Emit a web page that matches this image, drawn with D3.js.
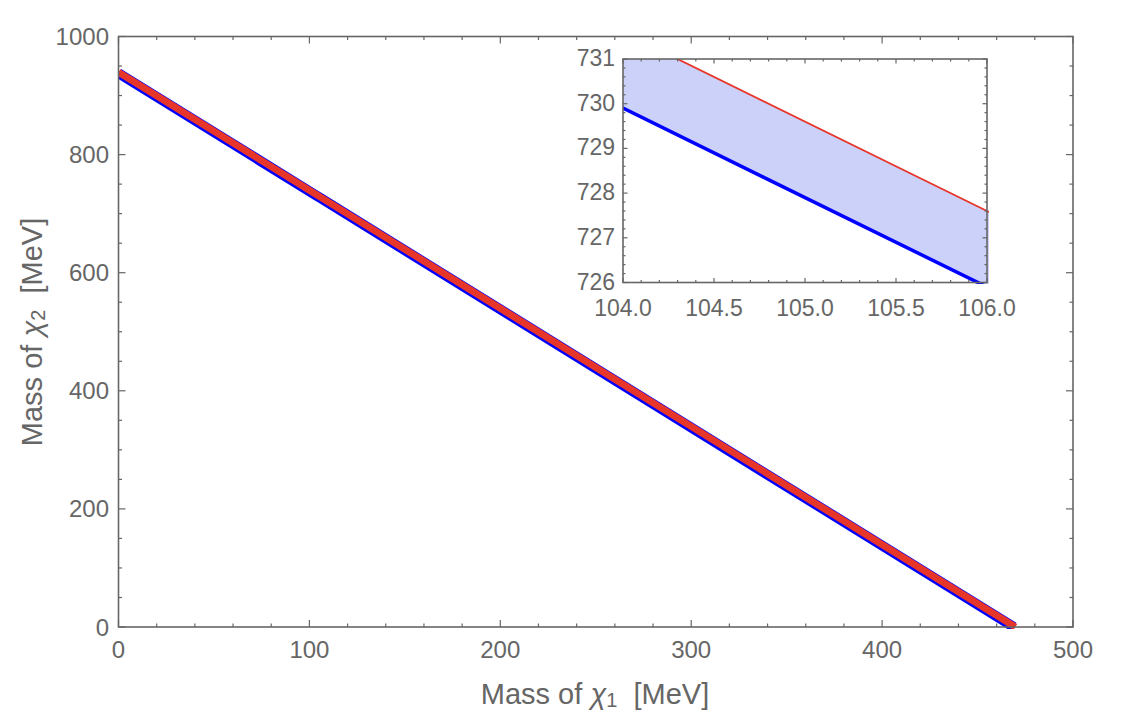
<!DOCTYPE html>
<html>
<head>
<meta charset="utf-8">
<script src="https://cdn.jsdelivr.net/npm/d3@7"></script>
<style>
  body { margin: 0; background: #fff; }
  svg { display: block; font-family: "Liberation Sans", Arial, sans-serif; }
</style>
</head>
<body>
<svg id="chart"></svg>
<script>
// points (both lines are straight)
const blueM1 = [0, 104, 106, 468.95];
const blueM2 = [937.9, 729.9, 725.9, 0];
const redM1 = [0, 104, 106, 469.8];
const redM2 = [939.6, 731.6, 727.6, 0];

// axis ticks
const mainXTicks = [0, 100, 200, 300, 400, 500];
const mainYTicks = [0, 200, 400, 600, 800, 1000];
const insetXTicks = [104.0, 104.5, 105.0, 105.5, 106.0];
const insetYTicks = [726, 727, 728, 729, 730, 731];

var width = 1140, height = 724;
var grey = "#666";
var red = "#e8352a", blue = "#0000ff";

var svg = d3.select("#chart").attr("width", width).attr("height", height);

var blue_pts = blueM1.map((d, i) => [d, blueM2[i]]);
var red_pts = redM1.map((d, i) => [d, redM2[i]]);

// ---------- main plot ----------
var x = d3.scaleLinear().domain([0, 500]).range([118.5, 1073]);
var y = d3.scaleLinear().domain([0, 1000]).range([627, 36.5]);

svg.append("clipPath").attr("id", "mainclip")
  .append("rect").attr("x", 118.5).attr("y", 36.5).attr("width", 1073 - 118.5).attr("height", 627 - 36.5 + 2);

var line = d3.line().x(d => x(d[0])).y(d => y(d[1]));
var gm = svg.append("g").attr("clip-path", "url(#mainclip)");
gm.append("path").attr("d", line(blue_pts)).attr("fill", "none")
  .attr("stroke", blue).attr("stroke-width", 10);
gm.append("path").attr("d", line(red_pts)).attr("fill", "none")
  .attr("stroke", red).attr("stroke-width", 7);

function frame(g, xs, ys, xMinor, yMinor, majLen, minLen) {
  var [x0, x1] = xs.range(), [y0, y1] = ys.range();
  var ticks = g.append("g").attr("stroke", grey).attr("stroke-width", 1.2);
  xMinor.forEach(t => {
    var len = t.major ? majLen : minLen;
    ticks.append("line").attr("x1", xs(t.v)).attr("x2", xs(t.v)).attr("y1", y0).attr("y2", y0 - len);
    ticks.append("line").attr("x1", xs(t.v)).attr("x2", xs(t.v)).attr("y1", y1).attr("y2", y1 + len);
  });
  yMinor.forEach(t => {
    var len = t.major ? majLen : minLen;
    ticks.append("line").attr("y1", ys(t.v)).attr("y2", ys(t.v)).attr("x1", x0).attr("x2", x0 + len);
    ticks.append("line").attr("y1", ys(t.v)).attr("y2", ys(t.v)).attr("x1", x1).attr("x2", x1 - len);
  });
  g.append("rect").attr("x", x0).attr("y", y1).attr("width", x1 - x0).attr("height", y0 - y1)
    .attr("fill", "none").attr("stroke", grey).attr("stroke-width", 1.6);
}

function tickList(lo, hi, step, majors) {
  var out = [];
  var n = Math.round((hi - lo) / step);
  for (var i = 0; i <= n; i++) {
    var v = lo + i * step;
    out.push({v: v, major: majors.some(m => Math.abs(m - v) < 1e-6)});
  }
  return out;
}

var gmf = svg.append("g");
frame(gmf, x, y, tickList(0, 500, 20, mainXTicks), tickList(0, 1000, 50, mainYTicks), 7, 3.5);

var lab = svg.append("g").attr("fill", grey).style("font-size", "24px");
lab.selectAll(".xt").data(mainXTicks).join("text")
  .attr("x", d => x(d)).attr("y", 658).attr("text-anchor", "middle").text(d => d);
lab.selectAll(".yt").data(mainYTicks).join("text")
  .attr("x", 109).attr("y", d => y(d) + 8.5).attr("text-anchor", "end").text(d => d);

// axis titles
var xt = svg.append("text").attr("x", 595).attr("y", 704).attr("text-anchor", "middle")
  .attr("fill", grey).style("font-size", "29px");
xt.append("tspan").text("Mass of ");
xt.append("tspan").attr("font-style", "italic").text("χ");
xt.append("tspan").attr("font-size", "20px").attr("dy", 3).text("1");
xt.append("tspan").attr("dy", -3).text("  [MeV]");

var yt = svg.append("text").attr("transform", "translate(42,332) rotate(-90)").attr("text-anchor", "middle")
  .attr("fill", grey).style("font-size", "29px");
yt.append("tspan").text("Mass of ");
yt.append("tspan").attr("font-style", "italic").text("χ");
yt.append("tspan").attr("font-size", "20px").attr("dy", 3).text("2");
yt.append("tspan").attr("dy", -3).text("  [MeV]");
svg.selectAll("text").attr("xml:space", "preserve");

// ---------- inset ----------
var ix = d3.scaleLinear().domain([104, 106]).range([623, 987]);
var iy = d3.scaleLinear().domain([726, 731]).range([282.5, 59]);

svg.append("rect").attr("x", 623).attr("y", 59).attr("width", 987 - 623).attr("height", 282.5 - 59).attr("fill", "#fff");

svg.append("clipPath").attr("id", "insetclip")
  .append("rect").attr("x", 623).attr("y", 59).attr("width", 989 - 623).attr("height", 284 - 59);

var redAt = d3.scaleLinear().domain(redM1).range(redM2);
var iline = d3.line().x(d => ix(d[0])).y(d => iy(d[1]));
var iarea = d3.area()
  .x(d => ix(d[0]))
  .y0(d => iy(d[1]))
  .y1(d => iy(redAt(d[0])));
var gi = svg.append("g").attr("clip-path", "url(#insetclip)");
gi.append("path").attr("d", iarea(blue_pts)).attr("fill", "rgb(204,209,250)");
gi.append("path").attr("d", iline(red_pts)).attr("fill", "none")
  .attr("stroke", red).attr("stroke-width", 1.8);
gi.append("path").attr("d", iline(blue_pts)).attr("fill", "none")
  .attr("stroke", blue).attr("stroke-width", 3.5);

var gif = svg.append("g");
frame(gif, ix, iy, tickList(104, 106, 0.1, insetXTicks), tickList(726, 731, 0.2, insetYTicks), 4.5, 2.5);

var ilab = svg.append("g").attr("fill", grey).style("font-size", "23px");
ilab.selectAll("text.x").data(insetXTicks).join("text")
  .attr("x", d => ix(d)).attr("y", 315.5).attr("text-anchor", "middle").text(d => d.toFixed(1));
ilab.selectAll("text.y").data(insetYTicks).join("text")
  .attr("x", 615).attr("y", d => iy(d) + 7).attr("text-anchor", "end").text(d => d);
</script>
</body>
</html>
